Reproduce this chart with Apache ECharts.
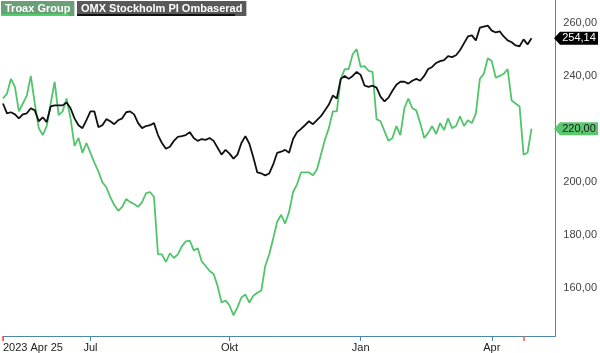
<!DOCTYPE html>
<html>
<head>
<meta charset="utf-8">
<script src="https://cdn.jsdelivr.net/npm/echarts@6/dist/echarts.min.js"></script>
<style>
  html, body { margin: 0; padding: 0; background: #fff; }
  #chart { width: 600px; height: 353px; }
</style>
</head>
<body>
<div id="chart"></div>
<script>
// one sample roughly every second trading day, 2023-04-25 .. 2024-04-26
const troax = [
  231.4, 233.2, 238.8, 235.8, 226.5, 229.5, 232.5, 239.9, 229.5, 220.2,
  217.6, 221.0, 229.5, 237.7, 225.1, 226.5, 231.4, 223.9, 213.5, 216.5,
  210.9, 214.6, 210.9, 207.2, 203.9, 199.8, 197.9, 194.2, 191.2, 189.0,
  190.5, 193.5, 192.3, 191.6, 190.5, 192.3, 195.7, 196.1, 194.2, 172.6,
  172.6, 169.7, 173.0, 171.2, 172.6, 175.6, 177.5, 177.8, 174.1, 174.9,
  170.0, 168.2, 166.3, 165.2, 160.7, 154.4, 155.2, 153.3, 149.6, 152.6,
  156.3, 157.4, 154.4, 157.0, 158.1, 158.9, 168.2, 172.6, 178.6, 184.9,
  187.5, 184.2, 188.6, 196.1, 199.0, 203.5, 203.5, 203.5, 202.4, 204.6,
  210.2, 215.8, 220.2, 226.5, 226.5, 238.8, 242.5, 242.5, 248.1, 250.0,
  243.3, 243.6, 241.8, 241.4, 223.6, 222.8, 219.1, 215.4, 216.5, 221.0,
  217.6, 227.7, 231.4, 227.7, 226.9, 222.1, 216.5, 218.4, 221.0, 218.0,
  222.1, 219.5, 223.9, 220.2, 221.0, 224.7, 221.0, 223.2, 222.1, 225.8,
  238.8, 240.7, 246.6, 245.5, 239.2, 239.9, 240.7, 242.5, 230.6, 229.5,
  228.4, 210.2, 210.9, 220.0
]

const omx = [
  229.5, 225.8, 226.2, 225.4, 223.9, 225.4, 225.8, 227.7, 226.9, 222.8,
  224.3, 222.5, 228.4, 228.8, 228.8, 228.8, 229.9, 227.7, 223.9, 221.3,
  220.2, 223.2, 226.5, 226.5, 220.6, 221.3, 223.6, 222.8, 221.7, 223.2,
  223.9, 226.2, 226.5, 225.4, 222.1, 220.2, 221.0, 221.3, 222.1, 217.6,
  214.6, 212.4, 213.2, 215.4, 216.9, 217.2, 217.6, 218.7, 216.5, 215.4,
  216.1, 215.8, 216.5, 215.4, 212.8, 210.2, 212.0, 210.6, 208.7, 210.2,
  214.6, 217.2, 214.3, 209.1, 203.5, 203.1, 202.4, 203.1, 206.5, 210.9,
  211.3, 212.0, 210.9, 216.1, 218.7, 219.9, 221.3, 222.8, 221.7, 223.2,
  224.7, 226.9, 229.1, 232.5, 231.4, 238.8, 239.9, 238.8, 239.9, 241.4,
  240.3, 236.2, 235.8, 236.2, 235.5, 232.1, 230.3, 231.7, 234.3, 236.6,
  237.7, 237.7, 237.0, 238.1, 238.8, 238.1, 239.9, 242.5, 243.3, 244.8,
  245.5, 245.9, 247.4, 247.0, 247.7, 249.6, 252.2, 254.8, 255.2, 253.3,
  258.1, 258.5, 258.9, 257.0, 256.3, 256.7, 254.8, 253.3, 252.6, 251.4,
  251.1, 253.7, 251.8, 254.14
]

const tickLabels = ['2023 Apr 25', 'Jul', 'Okt', 'Jan', 'Apr']
const tickIdx = [0, 22, 57, 90, 123]
const redTickIdx = [0, 131]
const slots = 140
const categories = Array.from({ length: slots }, (_, i) => String(i))

const fmt = v => v.toFixed(2).replace('.', ',')
const font = 'Liberation Sans, Arial, sans-serif'
const tagPath = 'path://M0,6.5L6,0L44,0L44,13L6,13Z'

function tag(data, bg, fg) {
    const last = data.length - 1
    return {
        symbol: tagPath,
        symbolSize: [44, 13],
        symbolOffset: [44.5, 0],
        silent: true,
        itemStyle: { color: bg },
        label: {
            show: true,
            position: 'inside',
            offset: [3, 0],
            color: fg,
            fontFamily: font,
            fontSize: 11,
            formatter: p => fmt(p.value),
        },
        data: [{ coord: [last, data[last]], value: data[last] }],
    }
}

const chart = echarts.init(document.getElementById('chart'))
chart.setOption({
    animation: false,
    grid: { left: 2, right: 42, top: 0, bottom: 12 },
    xAxis: [
        {
            type: 'category',
            position: 'bottom',
            data: categories,
            boundaryGap: false,
            axisLine: { lineStyle: { color: '#4f86aa', width: 1 } },
            axisTick: {
                length: 5,
                interval: i => tickIdx.includes(i),
                lineStyle: { color: '#4f86aa' },
            },
            axisLabel: {
                interval: i => tickIdx.includes(i),
                formatter: (v, i) => tickLabels[tickIdx.indexOf(i)] || '',
                alignMinLabel: 'left',
                margin: 6,
                color: '#222',
                fontFamily: font,
                fontSize: 11,
            },
            splitLine: { show: false },
        },
        {
            type: 'category',
            position: 'bottom',
            offset: 0,
            data: categories,
            boundaryGap: false,
            axisLine: { show: false },
            axisTick: {
                length: 5,
                interval: i => redTickIdx.includes(i),
                lineStyle: { color: '#ff4d4d', width: 1.5 },
            },
            axisLabel: { show: false },
            splitLine: { show: false },
        },
    ],
    yAxis: {
        type: 'value',
        position: 'right',
        min: 141.78,
        max: 268.55,
        splitNumber: 6,
        axisLine: { show: true, lineStyle: { color: '#4f86aa', width: 1 } },
        axisTick: { show: false },
        splitLine: { show: false },
        axisLabel: {
            margin: 8,
            color: '#444',
            fontFamily: font,
            fontSize: 11,
            formatter: v => (Math.abs(v % 20) < 1e-6 ? fmt(v) : ''),
        },
    },
    graphic: [
        {
            type: 'text',
            left: 1,
            top: 1,
            style: {
                text: 'Troax Group',
                fill: '#fff',
                font: 'bold 11px ' + font,
                backgroundColor: '#6a9f78',
                padding: [1, 4, 1, 4],
                lineHeight: 13,
            },
        },
        { type: 'rect', left: 1, top: 14, shape: { width: 68, height: 2 }, style: { fill: '#4cd06a' } },
        {
            type: 'text',
            left: 77,
            top: 1,
            style: {
                text: 'OMX Stockholm PI Ombaserad',
                fill: '#fff',
                font: 'bold 11px ' + font,
                backgroundColor: '#595959',
                padding: [1, 4, 1, 4],
                lineHeight: 13,
            },
        },
        { type: 'rect', left: 77, top: 14, shape: { width: 158, height: 2 }, style: { fill: '#111' } },
    ],
    series: [
        {
            name: 'Troax Group',
            type: 'line',
            data: troax,
            showSymbol: false,
            lineStyle: { color: '#52c46c', width: 1.8 },
            itemStyle: { color: '#52c46c' },
            markPoint: tag(troax, '#5cc670', '#1a1a1a'),
        },
        {
            name: 'OMX Stockholm PI Ombaserad',
            type: 'line',
            data: omx,
            showSymbol: false,
            lineStyle: { color: '#111', width: 1.8 },
            itemStyle: { color: '#111' },
            markPoint: tag(omx, '#000', '#fff'),
        },
    ],
})
</script>
</body>
</html>
